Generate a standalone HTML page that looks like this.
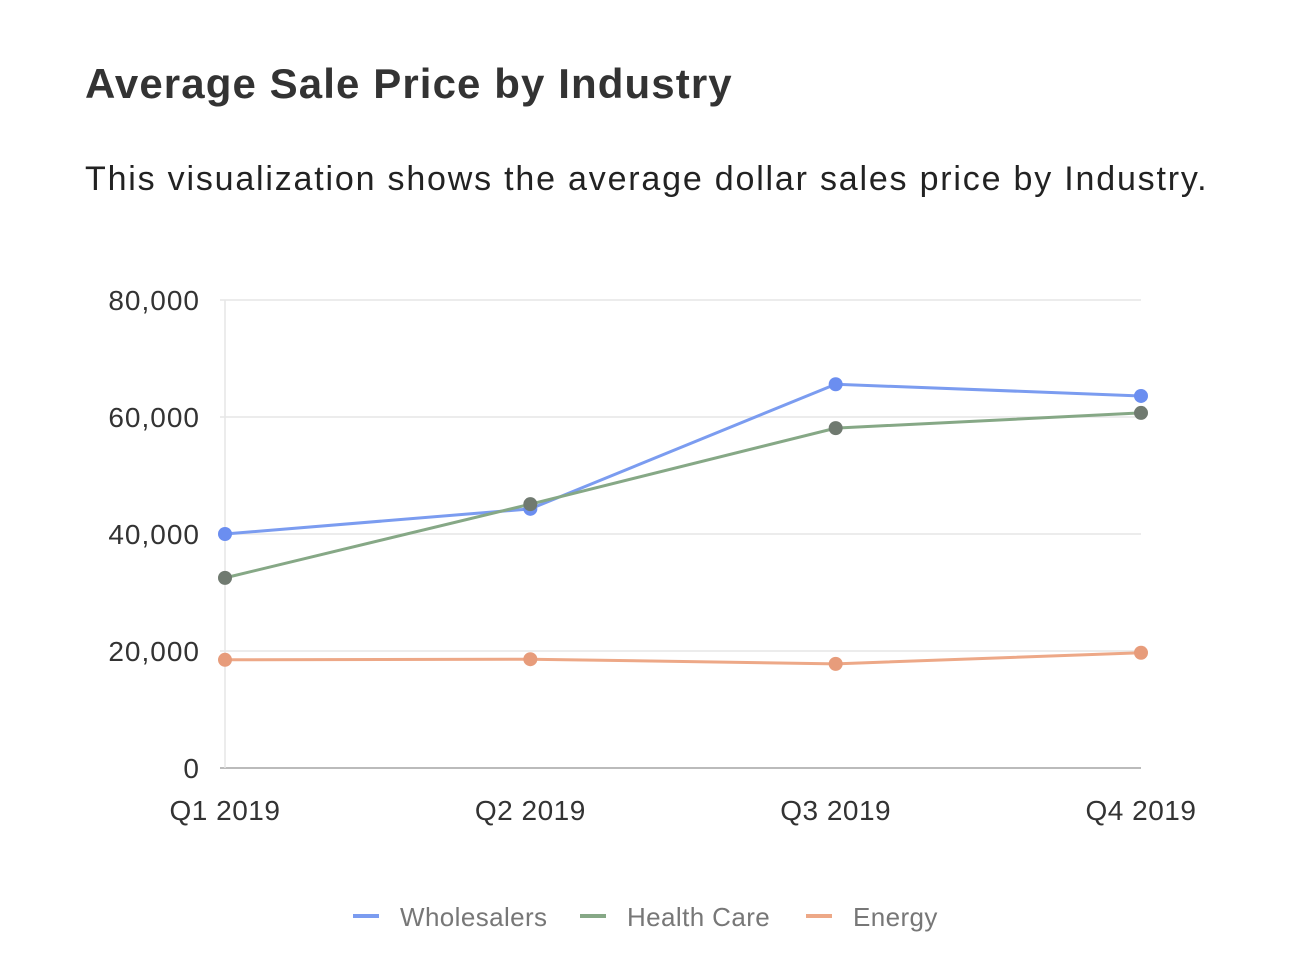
<!DOCTYPE html>
<html><head><meta charset="utf-8"><style>
body{margin:0;background:#fff;width:1292px;height:976px;overflow:hidden;font-family:"Liberation Sans",sans-serif}
#title{position:absolute;left:85px;top:60px;font-size:42px;color:#333;font-weight:bold;letter-spacing:1.1px}
#sub{position:absolute;left:85px;top:160px;font-size:34px;color:#222;letter-spacing:1.8px}
svg{position:absolute;left:0;top:0}
</style></head><body>
<div id="title">Average Sale Price by Industry</div>
<div id="sub">This visualization shows the average dollar sales price by Industry.</div>
<svg id="chart" width="1292" height="976"></svg>
<script>
const categories=["Q1 2019","Q2 2019","Q3 2019","Q4 2019"];
const yTicks=[0,20000,40000,60000,80000];
const yTickLabels=["0","20,000","40,000","60,000","80,000"];
const wholesalers=[40000,44300,65600,63600];
const healthCare=[32500,45100,58100,60700];
const energy=[18500,18600,17800,19700];
const seriesNames=["Wholesalers","Health Care","Energy"];
const NS="http://www.w3.org/2000/svg";
const svg=document.getElementById('chart');
const x0=225,x1=1141,yb=768,yt=300,ymax=80000;
const xs=i=>x0+i*(x1-x0)/(categories.length-1);
const ys=v=>yb-(v/ymax)*(yb-yt);
function mk(t,a){const e=document.createElementNS(NS,t);for(const k in a)e.setAttribute(k,a[k]);svg.appendChild(e);return e;}
yTicks.forEach((v,i)=>{
 const g=mk('line',{x1:x0-5,x2:x1,y1:ys(v),y2:ys(v),stroke:v===0?'#bbb':'#e6e6e6','stroke-width':v===0?2:1.5});
 
 
 const t=mk('text',{x:200,y:ys(v)+10,'text-anchor':'end','font-size':28,fill:'#333','letter-spacing':1});
 t.textContent=yTickLabels[i];
 
 
});
const ax=mk('line',{x1:x0,x2:x0,y1:yt,y2:yb,stroke:'#e6e6e6','stroke-width':1.5});


categories.forEach((c,i)=>{
 const t=mk('text',{x:xs(i),y:820,'text-anchor':'middle','font-size':28,fill:'#333','letter-spacing':0.5});
 t.textContent=c;
 
 
});
const series=[[wholesalers,'#7b9cf0','#6b8ef0'],[healthCare,'#86a886','#707a70'],[energy,'#eda887','#e79c7b']];
series.forEach((s,k)=>{
 const p=mk('polyline',{points:s[0].map((v,i)=>xs(i)+','+ys(v)).join(' '),fill:'none',stroke:s[1],'stroke-width':3});
 
 
 s[0].forEach((v,i)=>{
  const c=mk('circle',{cx:xs(i),cy:ys(v),r:7,fill:s[2]});
  
  
 });
});
const lx=[353,580,806];
seriesNames.forEach((n,k)=>{
 const l=mk('line',{x1:lx[k],x2:lx[k]+26,y1:916,y2:916,stroke:series[k][1],'stroke-width':4});
 
 
 const t=mk('text',{x:lx[k]+47,y:926,'font-size':26,fill:'#777','letter-spacing':0.4});
 t.textContent=n;
 
 
});
</script>
</body></html>
